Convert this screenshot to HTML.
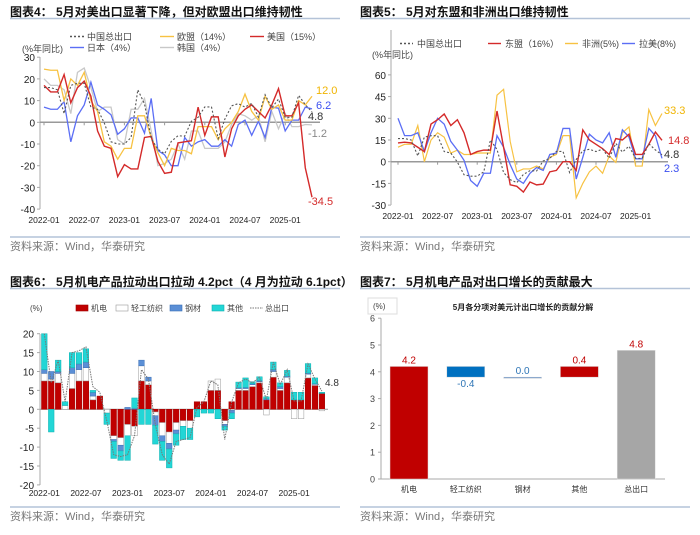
<!DOCTYPE html>
<html><head><meta charset="utf-8">
<style>
html,body{margin:0;padding:0;background:#fff;width:700px;height:535px;overflow:hidden;}
svg{display:block;font-family:"Liberation Sans","Noto Sans CJK SC",sans-serif;}
</style></head>
<body>
<svg id="root" width="700" height="535" viewBox="0 0 700 535">
<g id="static">
  <text x="10" y="16" font-size="12" font-weight="bold" fill="#111">图表4：  5月对美出口显著下降，但对欧盟出口维持韧性</text>
  <line x1="10" y1="18.5" x2="340" y2="18.5" stroke="#b4c3d8" stroke-width="1.5"/>
  <text x="360" y="16" font-size="12" font-weight="bold" fill="#111">图表5：  5月对东盟和非洲出口维持韧性</text>
  <line x1="360" y1="18.5" x2="690" y2="18.5" stroke="#b4c3d8" stroke-width="1.5"/>
  <text x="10" y="286" font-size="12" font-weight="bold" fill="#111">图表6：  5月机电产品拉动出口拉动 4.2pct（4 月为拉动 6.1pct）</text>
  <line x1="10" y1="288.5" x2="340" y2="288.5" stroke="#b4c3d8" stroke-width="1.5"/>
  <text x="360" y="286" font-size="12" font-weight="bold" fill="#111">图表7：  5月机电产品对出口增长的贡献最大</text>
  <line x1="360" y1="288.5" x2="690" y2="288.5" stroke="#b4c3d8" stroke-width="1.5"/>
  <line x1="10" y1="237" x2="340" y2="237" stroke="#b4c3d8" stroke-width="1.5"/>
  <line x1="360" y1="237" x2="690" y2="237" stroke="#b4c3d8" stroke-width="1.5"/>
  <line x1="10" y1="507" x2="340" y2="507" stroke="#b4c3d8" stroke-width="1.5"/>
  <line x1="360" y1="507" x2="690" y2="507" stroke="#b4c3d8" stroke-width="1.5"/>
  <text x="10" y="250" font-size="11" fill="#777">资料来源：Wind，华泰研究</text>
  <text x="360" y="250" font-size="11" fill="#777">资料来源：Wind，华泰研究</text>
  <text x="10" y="520" font-size="11" fill="#777">资料来源：Wind，华泰研究</text>
  <text x="360" y="520" font-size="11" fill="#777">资料来源：Wind，华泰研究</text>
</g>
</svg>
<script>
// ---------- DATA ----------
const dateTicks = ["2022-01","2022-07","2023-01","2023-07","2024-01","2024-07","2025-01"];
// Fig 4
const chinaTotal = [16,16,15,4,17,18,18,7,6,-0.3,-9,-10, -10,-7,15,8.5,-7.5,-12.4,-14.5,-8.8,-6.2,-6.4,0.5,2.3, 7.1,7.1,-7.5,1.5,7.6,8.6,7,8.7,2.4,12.7,6.7,10.7, 2.3,2.3,12.4,8.1,4.8];
const euSeries = [24.5,24,24,10,20,17,23,10,5,-9,-11,-17, -12,-12,3,3,-7,-14,-20,-12,-13,-13,-14.5,-2, -2,-2,-8,-3,0,5,13,5,1,12,6,8, 1,1,10,8,12];
const usSeries = [17,14,14,22,9,16,19,12,-4,-11,-12,-25, -19.5,-21.5,-21.5,-7,-6.5,-18,-23.5,-23,-9.5,-9,-8.5,7, -6,2.5,2.5,-16,-3,3,6,8,5,2,8,15.5, 3,3,9,-21,-34.5];
const japanSeries = [7,6,6,9.5,-9,3,8,18.5,8,6,3.5,-5.5, -3,2,2,-5,11,-13,-15,-20,-20,-7,-11,-9, -8,-11,-11,-8,-11,-1,1,-6,0.5,-7,7,6.5, -4,1,1,7,6.2];
const koreaSeries = [20,17,17,15,4,23,25,16,5,7,7,-8, -10,6,6,11,-4,-20,-19,-17,-10,-17,-4,-4, -12,-12,-12,-9,-1,4,3,1,3,-9,5,-3, 4,-2,-2,-1,-1.2];
const fig4Ticks = [30,20,10,0,-10,-20,-30,-40];
// Fig 5
const aseanSeries = [13,13.5,13,10,7,26,29,33,25,29,20,5, 7,8,8,35,10,-16,-17,-21,-14,-16,-15.5,-7, -6,0,0,-6,22,15,12,9,5,16,15,19, 5,5,12,20.5,14.8];
const africaSeries = [10,12,12,25,0,15,20,17,6,8,5,5, 6,6,6,46,50,14,-7,-5,-5,-3,-5,3, 5,18,18,-25,-15,-7,-3,-8,4,-0.5,20,24, -3,-3,36,25,33.3];
const latamSeries = [30,18,18,20,7,20,30,26,14,8,1,-13, -17,-8,-8,18,10,-2,-12,-15,-8,-4,-6,5, 6,23,23,-12,3,19,15,13,20,3,22,17, 2,2,23,18,2.3];
const fig5Ticks = [60,45,30,15,0,-15,-30];
// Fig 6
const mechContrib = [7.5,7.5,7,0,5.5,7.5,7.5,2.5,3.5,0,-7,-7.5,-4,-4.5,7.5,6.5,-0.7,-3.5,-6,-3.5,-3,-3,2,2,5,5,-3,2,5,5,6,7,2.5,8.5,5,7,2.5,2.5,8.3,6.3,4.2];
const lightContrib = [2,0.5,2.5,1,4,3,3.5,1,0,-1,-1,-2,-3,-2.5,4,1,-1,-3.5,-3,-2,-1.5,-2,0,0,2.5,3,-1,-0.3,0.5,0.5,0.5,0.3,-1.5,1.5,0.5,1.5,-2.5,-2.5,1,0.3,-0.4];
const steelContrib = [1,2,0.5,0,1.5,1.5,1.5,1,0,0,-0.5,-1.5,0.5,0.3,1.5,1,-2.5,-1.5,-1.5,-1,0,0,0,0,0,0,-0.5,-0.7,0.2,0.3,0.3,0.3,0.3,0.5,0.5,0.3,0,0,0.3,0.2,0];
const otherContrib = [9.5,-6,3,1,4,3,3.5,0.5,0,-3,-4.5,-2.5,-6.5,2.7,-4,-4,-5,-5,-5,-3,-3.5,-3,-2,-1,-1,-2.5,-1,-1.5,1.5,2.5,0.5,1,0.5,2,1,1.5,2,2,2.5,1.5,0.3];
const totalContrib = [20,7,13,2,15,15.5,16.5,6,4.5,-3,-12,-12.5,-12,-7,10.5,8,-4,-12,-14.5,-8.5,-8,-7.5,0.5,2,7.5,6.5,-8,2,7,8,7,8.5,2.5,12.5,6.5,10.5,2.2,2.2,12,8,4.8];
const fig6Ticks = [20,15,10,5,0,-5,-10,-15,-20];
// Fig 7
const wfCategories = ["机电","轻工纺织","钢材","其他","总出口"];
const wfValues = [4.2,-0.4,0.0,0.4,4.8];
const wfLabels = ["4.2","-0.4","0.0","0.4","4.8"];
const fig7Ticks = [6,5,4,3,2,1,0];

// ---------- HELPERS ----------
const NS="http://www.w3.org/2000/svg";
const root=document.getElementById('root');
function mk(tag,attrs,parent){const e=document.createElementNS(NS,tag);for(const k in attrs)e.setAttribute(k,attrs[k]);(parent||root).appendChild(e);return e;}
function txt(x,y,s,attrs,parent){const t=mk('text',Object.assign({x:x,y:y,'font-size':11,fill:'#222'},attrs||{}),parent);t.textContent=s;return t;}

// ---------- FIG 4 ----------
(function(){
  const g=mk('g',{});
  
  
  const X=i=>44+i*6.7, Y=v=>122.3-v*2.17;
  mk('line',{x1:40,y1:57,x2:40,y2:209,stroke:'#aaa'},g);
  fig4Ticks.forEach(t=>{mk('line',{x1:37,y1:Y(t),x2:40,y2:Y(t),stroke:'#aaa'},g);
    const l=txt(35,Y(t)+4,String(t),{'text-anchor':'end','font-size':10},g);
    
    });
  mk('line',{x1:40,y1:Y(0),x2:320,y2:Y(0),stroke:'#999','stroke-width':1.5},g);
  dateTicks.forEach((d,k)=>{mk('line',{x1:X(k*6),y1:Y(0),x2:X(k*6),y2:Y(0)+3,stroke:'#999'},g);
    const l=txt(X(k*6),223,d,{'text-anchor':'middle','font-size':8.5},g);
    
    });
  const series=[[koreaSeries,'#c8c8c8',1.3,'','korea-line'],[japanSeries,'#5b6ef5',1.3,'','japan-line'],[euSeries,'#f7c242',1.3,'','eu-line'],[usSeries,'#d42a2a',1.4,'','us-line'],[chinaTotal,'#555',1.1,'2,2','china-total-line']];
  series.forEach(s=>{const p=mk('polyline',{points:s[0].map((v,i)=>X(i)+','+Y(v)).join(' '),fill:'none',stroke:s[1],'stroke-width':s[2],'stroke-dasharray':s[3]},g);
    
    });
  const n=chinaTotal.length-1;
  [[euSeries,'#f0b400','12.0',4],[japanSeries,'#3b4ff0','6.2',4],[chinaTotal,'#333','4.8',-4],[koreaSeries,'#888','-1.2',-4],[usSeries,'#d42a2a','-34.5',-4]].forEach((a,k)=>{
    const yy=[94,109,120,137,205][k];
    const l=txt(X(n)+a[3],yy,a[2],{fill:a[1],'font-size':11},g);
    
    });
  const L=[[70,40,'#555','2,2','中国总出口'],[160,40,'#f7c242','','欧盟（14%）'],[250,40,'#d42a2a','','美国（15%）'],[70,51,'#5b6ef5','','日本（4%）'],[160,51,'#c8c8c8','','韩国（4%）']];
  L.forEach(e=>{const lg=mk('g',{},g);
    
    
    mk('line',{x1:e[0],y1:e[1]-3.5,x2:e[0]+14,y2:e[1]-3.5,stroke:e[2],'stroke-width':1.4,'stroke-dasharray':e[3]},lg);
    txt(e[0]+17,e[1],e[4],{'font-size':9,fill:'#444'},lg);});
  const u=txt(22,52,'(%年同比)',{'font-size':9,fill:'#444'},g);
  
  
})();

// ---------- FIG 5 ----------
(function(){
  const g=mk('g',{});
  
  
  const X=i=>398+i*6.6, Y=v=>161.7-v*1.447;
  mk('line',{x1:391,y1:30,x2:391,y2:205,stroke:'#aaa'},g);
  fig5Ticks.forEach(t=>{mk('line',{x1:388,y1:Y(t),x2:391,y2:Y(t),stroke:'#aaa'},g);
    const l=txt(386,Y(t)+4,String(t),{'text-anchor':'end','font-size':10},g);
    
    });
  mk('line',{x1:391,y1:Y(0),x2:668,y2:Y(0),stroke:'#999','stroke-width':1.5},g);
  dateTicks.forEach((d,k)=>{mk('line',{x1:X(k*6),y1:Y(0),x2:X(k*6),y2:Y(0)+3,stroke:'#999'},g);
    const l=txt(X(k*6),219,d,{'text-anchor':'middle','font-size':8.5},g);
    
    });
  const series=[[africaSeries,'#f7c242',1.2,'','africa-line'],[latamSeries,'#5b6ef5',1.3,'','latam-line'],[aseanSeries,'#d42a2a',1.4,'','asean-line'],[chinaTotal,'#555',1.1,'2,2','china-total-line']];
  series.forEach(s=>{const p=mk('polyline',{points:s[0].map((v,i)=>X(i)+','+Y(v)).join(' '),fill:'none',stroke:s[1],'stroke-width':s[2],'stroke-dasharray':s[3]},g);
    
    });
  [['#f0b400','33.3',664,114],['#d42a2a','14.8',668,144],['#333','4.8',664,158],['#3b4ff0','2.3',664,172]].forEach(a=>{
    const l=txt(a[2],a[3],a[1],{fill:a[0],'font-size':11},g);
    
    });
  const L=[[400,47,'#555','2,2','中国总出口'],[488,47,'#d42a2a','','东盟（16%）'],[565,47,'#f7c242','','非洲(5%)'],[622,47,'#5b6ef5','','拉美(8%)']];
  L.forEach(e=>{const lg=mk('g',{},g);
    
    
    mk('line',{x1:e[0],y1:e[1]-3.5,x2:e[0]+13,y2:e[1]-3.5,stroke:e[2],'stroke-width':1.4,'stroke-dasharray':e[3]},lg);
    txt(e[0]+17,e[1],e[4],{'font-size':9,fill:'#444'},lg);});
  const u=txt(372,58,'(%年同比)',{'font-size':9,fill:'#444'},g);
  
  
})();

// ---------- FIG 6 ----------
(function(){
  const g=mk('g',{});
  
  
  const X=i=>44.3+i*6.94, Y=v=>409.3-v*3.78;
  mk('line',{x1:40,y1:334,x2:40,y2:485,stroke:'#aaa'},g);
  fig6Ticks.forEach(t=>{mk('line',{x1:37,y1:Y(t),x2:40,y2:Y(t),stroke:'#aaa'},g);
    const l=txt(34,Y(t)+4,String(t),{'text-anchor':'end','font-size':10},g);
    
    });
  mk('line',{x1:40,y1:Y(0),x2:328,y2:Y(0),stroke:'#999'},g);
  dateTicks.forEach((d,k)=>{const l=txt(X(k*6),496,d,{'text-anchor':'middle','font-size':8.5},g);
    
    });
  const comps=[[mechContrib,'#c00000','#a00000','mech-bar'],[lightContrib,'#ffffff','#999','light-bar'],[steelContrib,'#5b8fd6','#3a6fb6','steel-bar'],[otherContrib,'#22d6d6','#12b0b0','other-bar']];
  mechContrib.forEach((_,i)=>{let pos=0,neg=0;
    comps.forEach(c=>{const v=c[0][i];if(!v)return;let a,b;
      if(v>0){a=pos;b=pos+v;pos=b;}else{a=neg;b=neg+v;neg=b;}
      const r=mk('rect',{x:X(i)-2.8,y:Math.min(Y(a),Y(b)),width:5.6,height:Math.abs(Y(a)-Y(b)),fill:c[1],stroke:c[2],'stroke-width':0.5},g);
      
      });});
  const p=mk('polyline',{points:totalContrib.map((v,i)=>X(i)+','+Y(v)).join(' '),fill:'none',stroke:'#777','stroke-width':1,'stroke-dasharray':'1.5,1'},g);
  
  
  const l=txt(325,Y(totalContrib[totalContrib.length-1])-5,'4.8',{'font-size':10,fill:'#333'},g);
  
  
  const L=[[76,'#c00000','#a00000','机电','rect'],[116,'#fff','#999','轻工纺织','rect'],[170,'#5b8fd6','#3a6fb6','钢材','rect'],[212,'#22d6d6','#12b0b0','其他','rect'],[250,'#777','#777','总出口','line']];
  L.forEach(e=>{const lg=mk('g',{},g);
    
    
    if(e[4]==='rect')mk('rect',{x:e[0],y:305,width:12,height:6,fill:e[1],stroke:e[2],'stroke-width':0.6},lg);
    else mk('line',{x1:e[0],y1:308,x2:e[0]+13,y2:308,stroke:e[1],'stroke-dasharray':'1.5,1'},lg);
    txt(e[0]+15,311,e[3],{'font-size':8,fill:'#444'},lg);});
  const u=txt(30,311,'(%)',{'font-size':8,fill:'#444'},g);
  
  
})();

// ---------- FIG 7 ----------
(function(){
  const g=mk('g',{});
  
  
  const Y=v=>479-v*26.8, X=i=>409+i*56.8, W=38;
  mk('rect',{x:368,y:298,width:29,height:16,fill:'#fff',stroke:'#ddd'},g);
  txt(373,309,'(%)',{'font-size':8,fill:'#444'},g);
  const t=txt(523,310,'5月各分项对美元计出口增长的贡献分解',{'font-size':8,'font-weight':'bold','text-anchor':'middle',fill:'#222'},g);
  
  
  mk('line',{x1:381,y1:Y(6),x2:381,y2:Y(0),stroke:'#aaa'},g);
  mk('line',{x1:381,y1:Y(0),x2:665,y2:Y(0),stroke:'#aaa'},g);
  fig7Ticks.forEach(v=>{mk('line',{x1:378,y1:Y(v),x2:381,y2:Y(v),stroke:'#aaa'},g);
    const l=txt(375,Y(v)+3.5,String(v),{'text-anchor':'end','font-size':9,fill:'#444'},g);
    
    });
  let cum=0;
  wfValues.forEach((v,i)=>{let a,b,col;
    const last=i===wfValues.length-1;
    if(i===0||last){a=0;b=v;col=last?'#a6a6a6':'#c00000';cum=i===0?v:cum;}
    else{a=cum;b=cum+v;col=v>0?'#c00000':'#0070c0';cum=b;}
    const top=Math.min(Y(a),Y(b)),h=Math.max(Math.abs(Y(a)-Y(b)),1.2);
    const r=mk('rect',{x:X(i)-W/2,y:top,width:W,height:h,fill:v===0?'#4a7fbf':col,stroke:'#ddd','stroke-width':0.5},g);
    
    
    const below=v<0;
    const l=txt(X(i),below?top+h+10:top-3,wfLabels[i],{'text-anchor':'middle','font-size':10,fill:(v<=0)?'#2e75b6':'#c00000'},g);
    
    
    const c=txt(X(i),492,wfCategories[i],{'text-anchor':'middle','font-size':8,fill:'#333'},g);
    
    
  });
})();
</script>
</body></html>
